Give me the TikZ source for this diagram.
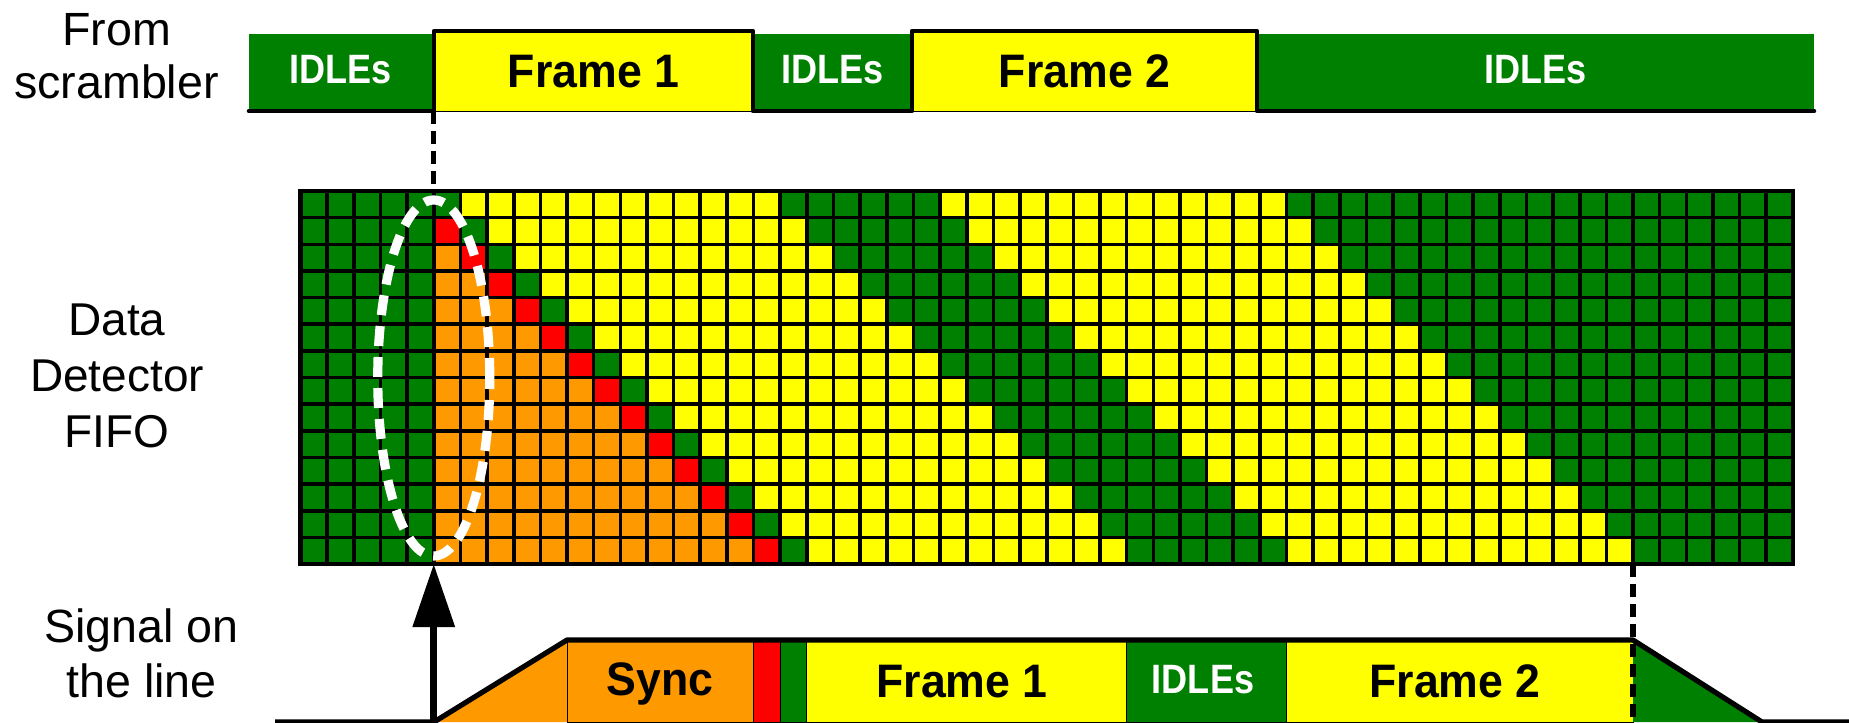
\documentclass[tikz,border=0pt]{standalone}
\usepackage{fontspec}
\setmainfont{Liberation Sans}
\newfontfamily\framefont[FakeStretch=0.95]{Liberation Sans}
\newfontfamily\idlefont[FakeStretch=0.88]{Liberation Sans}
\usetikzlibrary{arrows.meta}

\definecolor{idlegreen}{RGB}{0,128,0}
\definecolor{frameyellow}{RGB}{255,255,0}
\definecolor{syncorange}{RGB}{255,153,0}
\definecolor{sfdred}{RGB}{255,0,0}

% colour of FIFO cell (#1 = column, #2 = row); every row is the previous one shifted by one cell
\newcommand\fifocolour[2]{%
  \pgfmathtruncatemacro\fifodiag{#1-#2}%
  \ifnum#1<5 \def\fifocc{idlegreen}\else
  \ifnum\fifodiag<4 \def\fifocc{syncorange}\else
  \ifnum\fifodiag=4 \def\fifocc{sfdred}\else
  \ifnum\fifodiag=5 \def\fifocc{idlegreen}\else
  \ifnum\fifodiag<18 \def\fifocc{frameyellow}\else
  \ifnum\fifodiag<24 \def\fifocc{idlegreen}\else
  \ifnum\fifodiag<37 \def\fifocc{frameyellow}\else
  \def\fifocc{idlegreen}\fi\fi\fi\fi\fi\fi\fi}

\def\gridx{300.5}
\def\gridy{191}
\def\gridp{26.65}
\def\gridr{1792.9}
\def\gridb{564.1}

\begin{document}
\begin{tikzpicture}[x=0.5pt,y=-0.5pt,
  sidelabel/.style={font=\fontsize{23.3}{27.5}\selectfont, align=center, inner sep=0pt, anchor=north},
  idletext/.style={font=\idlefont\fontsize{20.5}{24}\selectfont\bfseries, text=white, inner sep=0pt, anchor=base},
  frametext/.style={font=\framefont\fontsize{23.5}{27}\selectfont\bfseries, inner sep=0pt, anchor=base},
  wave/.style={line width=2.3pt, line join=round, line cap=round},
  seam/.style={line width=0.5pt},
  guide/.style={line width=2.7pt, dash pattern=on 6.5pt off 3.5pt},
  cellline/.style={line width=1.8pt},
]
\useasboundingbox (0,0) rectangle (1849,723);

% ---------- stream from the scrambler ----------
\fill[idlegreen] (249,34) rectangle (434,111);
\filldraw[fill=frameyellow, draw=black, seam] (434,31) rectangle (753,111);
\fill[idlegreen] (753,34) rectangle (912,111);
\filldraw[fill=frameyellow, draw=black, seam] (912,31) rectangle (1257,111);
\fill[idlegreen] (1257,34) rectangle (1814,111);
\draw[wave] (249,111) -- (434,111) -- (434,31) -- (753,31) -- (753,111)
  -- (912,111) -- (912,31) -- (1257,31) -- (1257,111) -- (1814,111);

\node[idletext] (topidle1) at (340.5,83.5) {IDLEs};
\node[frametext] (topframe1) at (593.5,87) {Frame 1};
\node[idletext] (topidle2) at (832.5,83.5) {IDLEs};
\node[frametext] (topframe2) at (1084.5,87) {Frame 2};
\node[idletext] (topidle3) at (1535.5,83.5) {IDLEs};

% ---------- data detector FIFO ----------
\foreach \r in {0,...,13}{
  \foreach \c in {0,...,55}{
    \fifocolour{\c}{\r}
    \fill[\fifocc] ({\gridx+\c*\gridp},{\gridy+\r*\gridp}) rectangle ++(\gridp,\gridp);
  }
}
\foreach \c in {1,...,55}
  \draw[cellline] ({\gridx+\c*\gridp},\gridy) -- ({\gridx+\c*\gridp},\gridb);
\foreach \r in {1,...,13}
  \draw[cellline] (\gridx,{\gridy+\r*\gridp}) -- (\gridr,{\gridy+\r*\gridp});
\draw[line width=2.3pt] (\gridx,\gridy) rectangle (\gridr,\gridb);

\coordinate (startbit) at (433.75,111);
\coordinate (fifotop) at (433.75,\gridy);
\coordinate (fifobottom) at (433.75,\gridb);
\coordinate (lastcol) at (1633,\gridb);

% detection window
\draw[white, line width=4.6pt, dash pattern=on 10pt off 5.5pt]
  (433.75,378) ellipse [x radius=28pt, y radius=89pt];

% ---------- signal on the line ----------
\fill[syncorange] (434,722) -- (567,640) -- (567,722) -- cycle;
\filldraw[fill=syncorange, draw=black, seam] (567,640) rectangle (753.55,722);
\filldraw[fill=sfdred, draw=black, seam] (753.55,640) rectangle (780.2,722);
\filldraw[fill=idlegreen, draw=black, seam] (780.2,640) rectangle (806.85,722);
\filldraw[fill=frameyellow, draw=black, seam] (806.85,640) rectangle (1126.65,722);
\filldraw[fill=idlegreen, draw=black, seam] (1126.65,640) rectangle (1286.55,722);
\filldraw[fill=frameyellow, draw=black, seam] (1286.55,640) rectangle (1633,722);
\fill[idlegreen] (1633,640) -- (1762,722) -- (1633,722) -- cycle;
\draw[line width=2.6pt, line join=round] (275,722) -- (434,722) -- (567,640)
  -- (1633,640) -- (1762,722) -- (1849,722);
\coordinate (lineend) at (1633,722);
\coordinate (linestart) at (433.75,722);

\node[frametext] (sync) at (660,695) {Sync};
\node[frametext] (lineframe1) at (962,697) {Frame 1};
\node[idletext] (lineidle) at (1203,693) {IDLEs};
\node[frametext] (lineframe2) at (1455,697) {Frame 2};

% ---------- guides and sampling arrow ----------
\draw[guide] (startbit) -- (fifotop);
\draw[guide] (lastcol) -- (lineend);
\draw[line width=3.3pt, -{Triangle[width=20.5pt,length=31.5pt]}] (linestart) -- (fifobottom);

% ---------- row labels ----------
\node[sidelabel, font=\fontsize{23.3}{26.7}\selectfont] (scramblerlabel) at (116.5,13) {From\\scrambler};
\node[sidelabel, font=\fontsize{23}{28}\selectfont] (fifolabel) at (117,303) {Data\\Detector\\FIFO};
\node[sidelabel] (linelabel) at (141.5,608) {Signal on\\the line};
\end{tikzpicture}
\end{document}
